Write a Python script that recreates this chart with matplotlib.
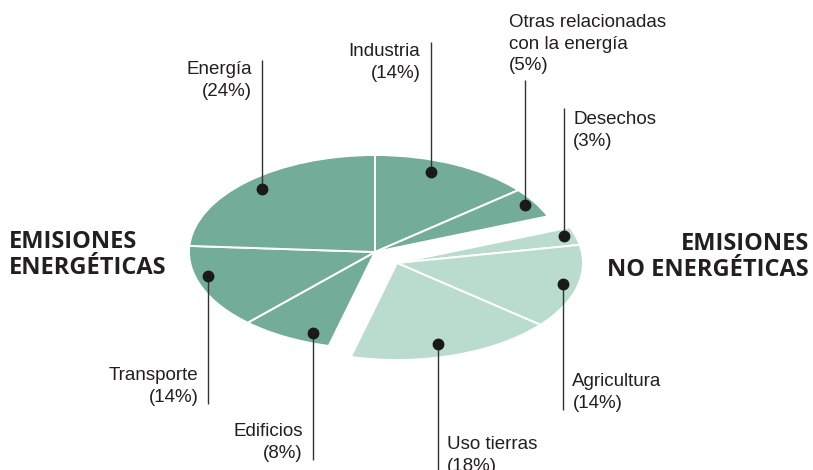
import numpy as np
import matplotlib
matplotlib.use("Agg")
import matplotlib.pyplot as plt

# ---- data ----
labels = ["Industria", "Otras relacionadas\ncon la energía", "Desechos", "Agricultura",
          "Uso tierras", "Edificios", "Transporte", "Energía"]
values = [14, 5, 3, 14, 18, 8, 14, 24]
groups = ["E", "E", "N", "N", "N", "E", "E", "E"]
group_titles = {"E": "EMISIONES\nENERGÉTICAS", "N": "EMISIONES\nNO ENERGÉTICAS"}

# ---- styling / layout ----
W, H = 813, 470
col = {"E": "#73ac98", "N": "#b9dccf"}
text_col = "#231f20"
# pixel geometry of the squashed pie
CX, CY, RX, RY = 375, 252, 186, 97
offset_N = (22 / RX, -11 / RY)

fig = plt.figure(figsize=(W / 100, H / 100), dpi=100)
ax = fig.add_axes([0, 0, 1, 1])

wedges, _ = ax.pie(values, colors=[col[g] for g in groups], startangle=90,
                   counterclock=False,
                   wedgeprops=dict(edgecolor="white", linewidth=1.4))
for w, g in zip(wedges, groups):
    if g == "N":
        w.set_center(offset_N)

ax.set_aspect("auto")
ax.set_xlim(-CX / RX, (W - CX) / RX)
ax.set_ylim(-(H - CY) / RY, CY / RY)
ax.axis("off")


def py2d(py):
    return (CY - py) / RY


def dx2d(dx):
    return dx / RX


# label layout:
# (fraction along wedge, radius, x offset px, anchor y px, ha, va, leader end y px)
layout = {
    "Industria": (0.40, 0.88, -11, 43, "right", "top", 42),
    "Otras relacionadas\ncon la energía": (0.48, 0.94, -16, 14, "left", "top", 80),
    "Desechos": (0.41, 0.94, 9, 111, "left", "top", 108),
    "Agricultura": (0.48, 0.92, 9, 412, "left", "bottom", 410),
    "Uso tierras": (0.55, 0.86, 9, 436, "left", "top", 472),
    "Edificios": (0.26, 0.90, -10, 462, "right", "bottom", 460),
    "Transporte": (0.62, 0.93, -10, 406, "right", "bottom", 404),
    "Energía": (0.50, 0.89, -10, 61, "right", "top", 60),
}

font = ["Liberation Sans", "DejaVu Sans"]
for w, lab, v in zip(wedges, labels, values):
    frac, r_dot, dx, ty, ha, va, lend = layout[lab]
    # counterclock=False: wedge runs from theta2 down to theta1
    ang = np.deg2rad(w.theta2 - frac * (w.theta2 - w.theta1))
    cx, cy = w.center
    x = cx + r_dot * np.cos(ang)
    y = cy + r_dot * np.sin(ang)
    ax.plot([x, x], [y, py2d(lend)], color="#333333", lw=1.0, zorder=3,
            solid_capstyle="butt")
    ax.plot([x], [y], "o", ms=7.5, color="#1a1a1a", zorder=4)
    ax.text(x + dx2d(dx), py2d(ty), f"{lab}\n({v}%)", ha=ha, va=va,
            multialignment=ha, fontsize=13.5, family=font, color=text_col,
            linespacing=1.36)

title_font = ["Open Sans", "DejaVu Sans"]
ax.text(dx2d(9 - CX), py2d(255), group_titles["E"], ha="left", va="center",
        fontsize=17, fontweight="bold", family=title_font, color=text_col,
        linespacing=1.1)
ax.text(dx2d(809 - CX), py2d(257), group_titles["N"], ha="right", va="center",
        multialignment="right", fontsize=17, fontweight="bold", family=title_font,
        color=text_col, linespacing=1.1)

fig.savefig("out.png", dpi=100)
